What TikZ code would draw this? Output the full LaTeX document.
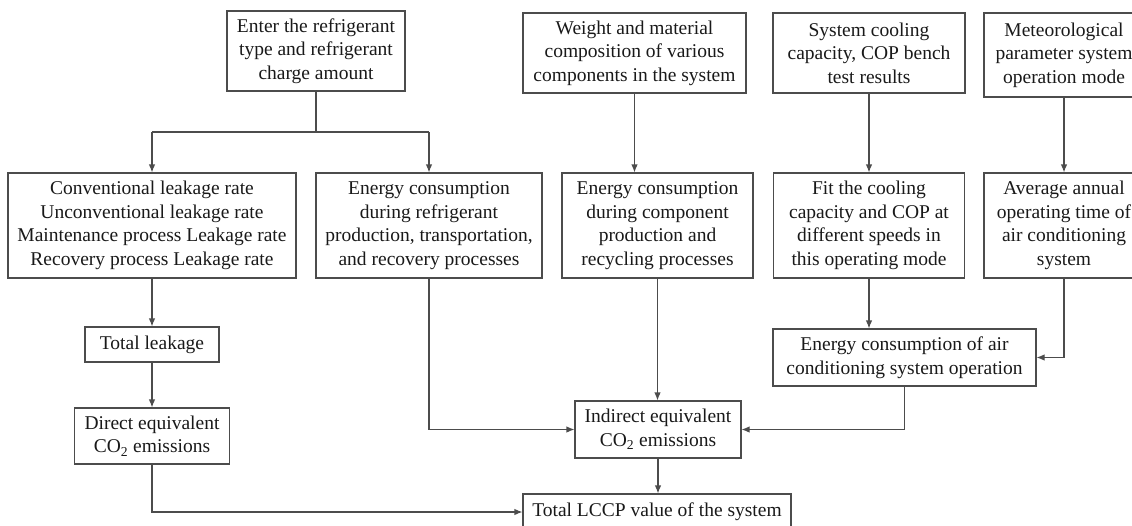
\documentclass[tikz,border=0pt]{standalone}
\usepackage{fontspec}
\setmainfont{Liberation Serif}
\usetikzlibrary{arrows.meta}
\begin{document}
\begin{tikzpicture}[x=1pt,y=-1pt,
  box/.style={draw=black!70, line width=1.15pt, inner sep=0pt, align=center,
    font={\fontsize{19.5}{23.5}\selectfont}, text=black!90},
  link/.style={draw=black!70, line width=1.15pt},
  arr/.style={link, -{Latex[length=8pt,width=6.5pt]}}]
\useasboundingbox (0,0) rectangle (1132,525);
% row 1
\node[box, minimum width=178, minimum height=80] (enter) at (316,51) {Enter the refrigerant\\type and refrigerant\\charge amount};
\node[box, minimum width=223, minimum height=80] (weight) at (634.5,53) {Weight and material\\composition of various\\components in the system};
\node[box, minimum width=192, minimum height=80] (sys) at (869,53) {System cooling\\capacity, COP bench\\test results};
\node[box, minimum width=160, minimum height=84] (met) at (1064,55) {Meteorological\\parameter system\\operation mode};
% row 2
\node[box, minimum width=288, minimum height=105] (conv) at (152,225.5) {Conventional leakage rate\\Unconventional leakage rate\\Maintenance process Leakage rate\\Recovery process Leakage rate};
\node[box, minimum width=226, minimum height=105] (erefr) at (429,225.5) {Energy consumption\\during refrigerant\\production, transportation,\\and recovery processes};
\node[box, minimum width=191, minimum height=105] (ecomp) at (657.5,225.5) {Energy consumption\\during component\\production and\\recycling processes};
\node[box, minimum width=191, minimum height=105] (fit) at (869,225.5) {Fit the cooling\\capacity and COP at\\different speeds in\\this operating mode};
\node[box, minimum width=160, minimum height=105] (avg) at (1064,225.5) {Average annual\\operating time of\\air conditioning\\system};
% lower
\node[box, minimum width=134, minimum height=35] (tleak) at (152,344.5) {Total leakage};
\node[box, minimum width=263, minimum height=57] (eop) at (904.5,357.5) {Energy consumption of air\\conditioning system operation};
\node[box, minimum width=155, minimum height=56] (direct) at (152,436) {Direct equivalent\\CO\textsubscript{2} emissions};
\node[box, minimum width=166, minimum height=57] (indirect) at (658,429.5) {Indirect equivalent\\CO\textsubscript{2} emissions};
\node[box, minimum width=268, minimum height=36] (lccp) at (657,512) {Total LCCP value of the system};
% connectors
\coordinate (br) at (316,132);
\coordinate (brl) at (152,132);
\coordinate (brr) at (429,132);
\draw[link] (enter.south) -- (br);
\draw[link] (brl) -- (brr);
\draw[arr] (brl) -- (conv.north);
\draw[arr] (brr) -- (erefr.north);
\draw[arr] (weight.south) -- (weight.south |- ecomp.north);
\draw[arr] (sys.south) -- (sys.south |- fit.north);
\draw[arr] (met.south) -- (met.south |- avg.north);
\draw[arr] (conv.south) -- (conv.south |- tleak.north);
\draw[arr] (tleak.south) -- (tleak.south |- direct.north);
\draw[arr] (fit.south) -- (fit.south |- eop.north);
\draw[arr] (avg.south) |- (eop.east);
\draw[arr] (direct.south) |- (lccp.west);
\draw[arr] (erefr.south) |- (indirect.west);
\draw[arr] (ecomp.south) -- (ecomp.south |- indirect.north);
\draw[arr] (eop.south) |- (indirect.east);
\draw[arr] (indirect.south) -- (indirect.south |- lccp.north);
\end{tikzpicture}
\end{document}
